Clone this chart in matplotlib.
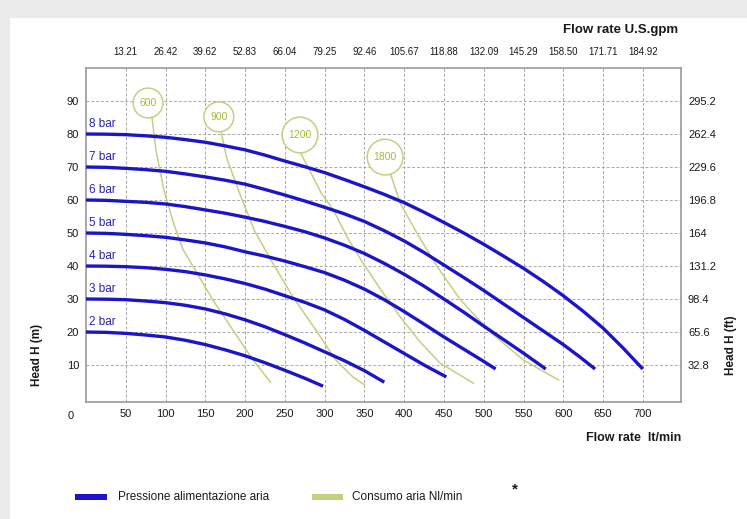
import matplotlib.pyplot as plt
from matplotlib.patches import Rectangle

plt.rcParams['font.family'] = ['Liberation Sans Narrow', 'Liberation Sans', 'DejaVu Sans']

# pressure curves (bar) : flow lt/min -> head m
bars = ["2 bar", "3 bar", "4 bar", "5 bar", "6 bar", "7 bar", "8 bar"]
q_bar = [
    [0, 25, 50, 75, 100, 125, 150, 175, 200, 225, 250, 275, 298],
    [0, 25, 50, 75, 100, 125, 150, 175, 200, 225, 250, 275, 300, 325, 350, 375],
    [0, 25, 50, 75, 100, 125, 150, 175, 200, 225, 250, 275, 300, 325, 350, 375, 400, 425, 453],
    [0, 25, 50, 75, 100, 125, 150, 175, 200, 225, 250, 275, 300, 325, 350, 375, 400, 425, 450,
     475, 500, 515],
    [0, 25, 50, 75, 100, 125, 150, 175, 200, 225, 250, 275, 300, 325, 350, 375, 400, 425, 450,
     475, 500, 525, 550, 578],
    [0, 25, 50, 75, 100, 125, 150, 175, 200, 225, 250, 275, 300, 325, 350, 375, 400, 425, 450,
     475, 500, 525, 550, 575, 600, 620, 640],
    [0, 25, 50, 75, 100, 125, 150, 175, 200, 225, 250, 275, 300, 325, 350, 375, 400, 425, 450,
     475, 500, 525, 550, 575, 600, 625, 650, 675, 700],
]
h_bar = [
    [20, 19.9, 19.6, 19.1, 18.5, 17.5, 16.2, 14.6, 12.8, 10.7, 8.4, 6.0, 3.6],
    [30, 29.95, 29.8, 29.4, 28.9, 28.1, 27.0, 25.5, 23.7, 21.6, 19.2, 16.7, 14.0, 11.3, 8.3, 4.8],
    [40, 39.95, 39.8, 39.5, 39.0, 38.3, 37.3, 36.1, 34.7, 33.0, 31.0, 29.0, 26.7, 23.8, 20.5,
     17.0, 13.5, 10.0, 6.4],
    [50, 49.9, 49.6, 49.2, 48.7, 47.9, 47.0, 45.8, 44.3, 43.0, 41.5, 39.8, 38.0, 35.7, 33.0,
     29.8, 26.2, 22.4, 18.5, 14.8, 11.1, 8.8],
    [60, 59.9, 59.6, 59.3, 58.8, 58.0, 57.0, 56.0, 54.8, 53.5, 52.0, 50.4, 48.5, 46.3, 43.8,
     40.8, 37.5, 33.9, 30.0, 26.0, 21.8, 17.7, 13.6, 8.8],
    [70, 69.9, 69.6, 69.2, 68.7, 67.9, 67.0, 66.0, 64.8, 63.2, 61.5, 59.7, 57.8, 55.8, 53.5,
     50.7, 47.6, 44.1, 40.3, 36.5, 32.6, 28.5, 24.4, 20.3, 16.2, 12.6, 8.8],
    [80, 79.95, 79.8, 79.45, 79.0, 78.3, 77.5, 76.4, 75.2, 73.6, 71.8, 70.1, 68.3, 66.2, 64.0,
     61.7, 59.2, 56.3, 53.2, 50.0, 46.6, 43.0, 39.3, 35.3, 31.0, 26.3, 21.2, 15.2, 8.8],
]

# air consumption curves (Nl/min)
air = ["600", "900", "1200", "1800"]
air_lbl_q = [78, 167, 269, 376]
air_lbl_h = [89.4, 85.2, 79.7, 73.0]
q_air = [
    [78, 83, 88, 98, 110, 122, 138, 160, 185, 210, 232],
    [167, 170, 177, 194, 212, 235, 260, 289, 314, 335, 350],
    [269, 268, 282, 296, 311, 330, 348, 370, 395, 420, 445, 487],
    [376, 382, 395, 416, 441, 470, 508, 550, 594],
]
h_air = [
    [89.4, 85, 75, 63, 53, 45, 38.5, 29.5, 20.5, 11.5, 4.8],
    [85.2, 80.6, 72.6, 61.5, 50.6, 40.8, 30.7, 20.6, 11.5, 6.5, 4],
    [79.7, 75, 68.6, 62, 57, 48, 41, 33, 24.6, 17, 10.6, 4.5],
    [73.0, 68.5, 59, 50, 40, 30, 20, 11.5, 5.5],
]

x_ticks = [50, 100, 150, 200, 250, 300, 350, 400, 450, 500, 550, 600, 650, 700]
gpm_labels = ["13.21", "26.42", "39.62", "52.83", "66.04", "79.25", "92.46", "105.67",
              "118.88", "132.09", "145.29", "158.50", "171.71", "184.92"]
y_ticks = [10, 20, 30, 40, 50, 60, 70, 80, 90]
ft_labels = ["32.8", "65.6", "98.4", "131.2", "164", "196.8", "229.6", "262.4", "295.2"]

blue = '#1c14c8'
green = '#c3cf82'
green_txt = '#a2bf34'
txt = '#1a1a1a'

fig = plt.figure(figsize=(7.47, 5.19), dpi=100)
fig.patch.set_facecolor('#ebebeb')
fig.patches.append(Rectangle((10/747, 0), 1, 1 - 18/519, transform=fig.transFigure,
                             facecolor='white', edgecolor='none', zorder=-5))

ax = fig.add_axes([86/747, 1 - 402/519, 595/747, 334/519])
ax.set_xlim(0, 748)
ax.set_ylim(-1.2, 100)

for i in range(len(air)):
    ax.plot(q_air[i], h_air[i], color=green, lw=1.1, zorder=2)
    ax.text(air_lbl_q[i], air_lbl_h[i], air[i], ha='center', va='center', fontsize=7.5,
            color=green_txt, zorder=5,
            bbox=dict(boxstyle='circle,pad=0.6', fc='white', ec=green, lw=1.1))

for i in range(len(bars)):
    ax.plot(q_bar[i], h_bar[i], color=blue, lw=2.4, zorder=3, solid_capstyle='butt')
    ax.text(4, h_bar[i][0] + 1.2, bars[i], color='#2a22b0', fontsize=8.5,
            ha='left', va='bottom', zorder=4)

ax.set_xticks(x_ticks)
ax.set_yticks(y_ticks)
ax.set_xticklabels([str(v) for v in x_ticks])
ax.grid(True, color='#a8a8a8', lw=0.7, ls=(0, (3, 2)))
ax.tick_params(length=0, labelsize=8, colors=txt, pad=5)
for s in ax.spines.values():
    s.set_color('#9a9a9a')
    s.set_linewidth(1.2)
ax.text(-19, -4.0, "0", ha='center', va='top', fontsize=8, color=txt, clip_on=False)

ax2 = ax.twinx()
ax2.set_ylim(ax.get_ylim())
ax2.set_yticks(y_ticks)
ax2.set_yticklabels(ft_labels)
ax2.tick_params(length=0, labelsize=8, colors=txt, pad=5)
for s in ax2.spines.values():
    s.set_visible(False)

ax3 = ax.twiny()
ax3.set_xlim(ax.get_xlim())
ax3.set_xticks(x_ticks)
ax3.set_xticklabels(gpm_labels)
ax3.tick_params(length=0, labelsize=7, colors=txt, pad=8)
for s in ax3.spines.values():
    s.set_visible(False)

fig.text(621/747, 1 - 30/519, "Flow rate U.S.gpm", ha='center', va='center',
         fontsize=9.5, fontweight='bold', color=txt)
fig.text(634/747, 1 - 438/519, "Flow rate  lt/min", ha='center', va='center',
         fontsize=9, fontweight='bold', color=txt)
fig.text(37/747, 1 - 355/519, "Head H (m)", ha='center', va='center', rotation=90,
         fontsize=8.5, fontweight='bold', color=txt)
fig.text(731/747, 1 - 345/519, "Head H (ft)", ha='center', va='center', rotation=90,
         fontsize=8.5, fontweight='bold', color=txt)

# legend
fig.patches.append(Rectangle((75/747, 1 - 500/519), 32/747, 6/519, transform=fig.transFigure,
                             facecolor=blue, edgecolor='none'))
fig.text(118/747, 1 - 497/519, "Pressione alimentazione aria", ha='left', va='center',
         fontsize=8.5, color=txt)
fig.patches.append(Rectangle((312/747, 1 - 500/519), 31/747, 6/519, transform=fig.transFigure,
                             facecolor=green, edgecolor='none'))
fig.text(352/747, 1 - 497/519, "Consumo aria Nl/min", ha='left', va='center',
         fontsize=8.5, color=txt)
fig.text(515/747, 1 - 489/519, "*", ha='center', va='center', fontsize=11,
         fontweight='bold', color=txt)

fig.savefig("out.png", dpi=100, facecolor=fig.get_facecolor())
